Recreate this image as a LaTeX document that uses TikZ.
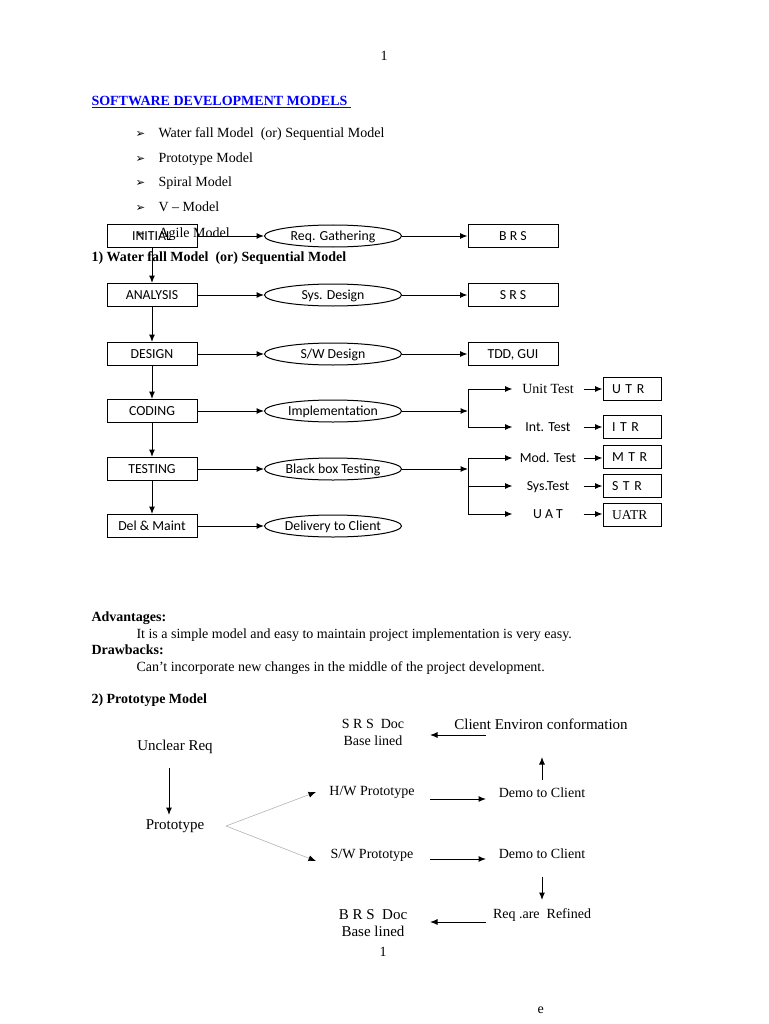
\documentclass[tikz,border=0pt]{standalone}
\usepackage{fontspec}
\setmainfont{Liberation Serif}
\newfontfamily\boxfont{Carlito}
\newfontfamily\symfont{DejaVu Sans}
\usetikzlibrary{arrows.meta, shapes, positioning}

\begin{document}
\begin{tikzpicture}[x=1pt, y=-1pt, line width=1pt,
    >={Latex[length=7.5pt,width=6pt]},
    body/.style={font=\fontsize{14}{16}\selectfont, inner sep=0pt, anchor=base west},
    head/.style={body, font=\bfseries\fontsize{14}{16}\selectfont},
    bullet/.style={body, font=\symfont\fontsize{11.5}{13}\selectfont},
    stage/.style={draw, rectangle, minimum width=90pt, minimum height=23pt, inner sep=0pt, text height=9pt, text depth=0pt, font=\boxfont\fontsize{13.8}{15}\selectfont},
    activity/.style={draw, ellipse, minimum width=137pt, minimum height=22pt, inner sep=0pt, text height=9pt, text depth=0pt, font=\boxfont\fontsize{13.8}{15}\selectfont},
    report/.style={draw, rectangle, text width=40pt, inner xsep=9pt, inner ysep=0pt, minimum height=23pt, text height=9pt, text depth=0pt, align=left, font=\boxfont\fontsize{13.8}{15}\selectfont},
    test/.style={minimum width=70pt, inner sep=0pt, text height=9pt, text depth=0pt, font=\boxfont\fontsize{13.8}{15}\selectfont},
    proto/.style={font=\fontsize{14}{17}\selectfont, align=center, inner sep=0pt},
    bigproto/.style={font=\fontsize{15}{18}\selectfont, align=center, inner sep=0pt}
]
\useasboundingbox (0,0) rectangle (768,1024);

% page heading and list
\node[body] (pgtop) at (380,61) {1};
\node[head, text=blue] (title) at (91,106) {\underline{SOFTWARE DEVELOPMENT MODELS\ }};
\node[bullet] (k1) at (135,138) {➢};
\node[bullet] (k2) at (135,163) {➢};
\node[bullet] (k3) at (135,187) {➢};
\node[bullet] (k4) at (135,212) {➢};
\node[bullet] (k5) at (135,237) {➢};
\node[body] (m1) at (158,138) {Water fall Model\ \ (or) Sequential Model};
\node[body] (m2) at (158,163) {Prototype Model};
\node[body] (m3) at (158,187) {Spiral Model};
\node[body] (m4) at (158,212) {V -- Model};
\node[body] (m5) at (158,237) {Agile Model};
\node[head] (wfhead) at (91,261) {1) Water fall Model\ \ (or) Sequential Model};

% waterfall stages
\node[stage] (initial) at (152,236) {INITIAL};
\node[stage] (analysis) at (152,295) {ANALYSIS};
\node[stage] (design) at (152,354) {DESIGN};
\node[stage] (coding) at (152,411) {CODING};
\node[stage] (testing) at (152,469) {TESTING};
\node[stage] (delmaint) at (152,526) {Del \& Maint};

\node[activity] (reqgath) at (333,236) {Req. Gathering};
\node[activity] (sysdesign) at (333,295) {Sys. Design};
\node[activity] (swdesign) at (333,354) {S/W Design};
\node[activity] (impl) at (333,411) {Implementation};
\node[activity] (bbtest) at (333,469) {Black box Testing};
\node[activity] (delivery) at (333,526) {Delivery to Client};

\node[stage] (brs) at (513,236) {B R S};
\node[stage] (srs) at (513,295) {S R S};
\node[stage] (tddgui) at (513,354) {TDD, GUI};

\coordinate (cjoin) at (468,411);
\coordinate (cup) at (468,389);
\coordinate (cdown) at (468,427);
\coordinate (tjoin) at (468,469);
\coordinate (tup) at (468,458);
\coordinate (tmid) at (468,486);
\coordinate (tdown) at (468,514);

\node[test, font=\fontsize{14}{16}\selectfont] (unit) at (548,389) {Unit Test};
\node[test] (inttest) at (548,427) {Int. Test};
\node[test] (modtest) at (548,458) {Mod. Test};
\node[test] (systest) at (548,486) {Sys.Test};
\node[test] (uat) at (548,514) {U A T};

\node[report] (utr) at (632,389) {U T R};
\node[report] (itr) at (632,427) {I T R};
\node[report] (mtr) at (632,457) {M T R};
\node[report] (str) at (632,486) {S T R};
\node[report, font=\fontsize{13.5}{15}\selectfont] (uatr) at (632,515) {UATR};

\draw[->] (initial) -- (analysis);
\draw[->] (analysis) -- (design);
\draw[->] (design) -- (coding);
\draw[->] (coding) -- (testing);
\draw[->] (testing) -- (delmaint);

\draw[->] (initial) -- (reqgath);
\draw[->] (analysis) -- (sysdesign);
\draw[->] (design) -- (swdesign);
\draw[->] (coding) -- (impl);
\draw[->] (testing) -- (bbtest);
\draw[->] (delmaint) -- (delivery);

\draw[->] (reqgath) -- (brs);
\draw[->] (sysdesign) -- (srs);
\draw[->] (swdesign) -- (tddgui);
\draw[->] (impl) -- (cjoin);
\draw[->] (bbtest) -- (tjoin);

\draw (cup) -- (cdown);
\draw[->] (cup) -- (unit.west);
\draw[->] (cdown) -- (inttest.west);
\draw (tup) -- (tdown);
\draw[->] (tup) -- (modtest.west);
\draw[->] (tmid) -- (systest.west);
\draw[->] (tdown) -- (uat.west);

\draw[->] (unit.east) -- (unit.east -| utr.west);
\draw[->] (inttest.east) -- (inttest.east -| itr.west);
\draw[->] (modtest.east) -- (modtest.east -| mtr.west);
\draw[->] (systest.east) -- (systest.east -| str.west);
\draw[->] (uat.east) -- (uat.east -| uatr.west);

% advantages and drawbacks
\node[head] (advhead) at (91,621) {Advantages:};
\node[body] (advtext) at (136,638) {It is a simple model and easy to maintain project implementation is very easy.};
\node[head] (drawhead) at (91,654) {Drawbacks:};
\node[body] (drawtext) at (136,671) {Can’t incorporate new changes in the middle of the project development.};
\node[head] (protohead) at (91,703) {2) Prototype Model};

% prototype model
\node[proto] (srsdoc) at (373,732) {S R S\ \ Doc\\Base lined};
\node[bigproto] (client) at (541,724) {Client Environ conformation};
\node[bigproto] (unclear) at (175,747) {Unclear Req};
\node[bigproto] (prototype) at (175,826) {Prototype};
\node[proto] (hwproto) at (372,792) {H/W Prototype};
\node[proto] (swproto) at (372,855) {S/W Prototype};
\node[proto] (demo1) at (542,793) {Demo to Client};
\node[proto] (demo2) at (542,854) {Demo to Client};
\node[proto] (refined) at (542,915) {Req .are\ \ Refined};
\node[proto, font=\fontsize{15}{17}\selectfont] (brsdoc) at (373,923) {B R S\ \ Doc\\Base lined};
\node[body] (pgbot) at (379,956) {1};
\node[body] (pgfoot) at (537,1013) {e};

\coordinate (cla) at (486,735);
\coordinate (clb) at (430,735);
\coordinate (una) at (169,768);
\coordinate (unb) at (169,815);
\coordinate (pra) at (226,826);
\coordinate (hwb) at (316,792);
\coordinate (swb) at (316,861);
\coordinate (hwa) at (430,799);
\coordinate (dma) at (486,799);
\coordinate (swa) at (430,859);
\coordinate (dmb) at (486,859);
\coordinate (upa) at (542,780);
\coordinate (upb) at (542,757);
\coordinate (dna) at (542,877);
\coordinate (dnb) at (542,900);
\coordinate (rfa) at (486,922);
\coordinate (rfb) at (430,922);

\draw[->] (cla) -- (clb);
\draw[->] (una) -- (unb);
\draw[gray!60, line width=0.6pt, -{Latex[length=7.5pt,width=6pt,color=black]}] (pra) -- (hwb);
\draw[gray!60, line width=0.6pt, -{Latex[length=7.5pt,width=6pt,color=black]}] (pra) -- (swb);
\draw[->] (hwa) -- (dma);
\draw[->] (swa) -- (dmb);
\draw[->] (upa) -- (upb);
\draw[->] (dna) -- (dnb);
\draw[->] (rfa) -- (rfb);
\end{tikzpicture}
\end{document}
